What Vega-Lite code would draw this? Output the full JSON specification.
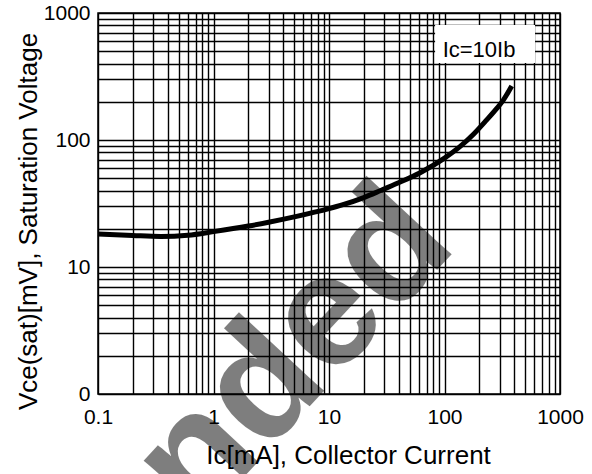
{
  "$schema": "https://vega.github.io/schema/vega-lite/v6.json",
  "width": 462,
  "height": 381,
  "autosize": {"type": "none"},
  "padding": {"left": 98, "top": 13, "right": 32, "bottom": 80},
  "background": "white",
  "config": {
    "view": {"stroke": "black", "strokeWidth": 1.5},
    "font": "Liberation Sans"
  },
  "datasets": {
    "curve": [
      {"ic": 0.1, "vce": 18.2},
      {"ic": 0.2, "vce": 17.7},
      {"ic": 0.35, "vce": 17.4},
      {"ic": 0.6, "vce": 17.8},
      {"ic": 1.0, "vce": 19.0},
      {"ic": 2.0, "vce": 21.0},
      {"ic": 3.0, "vce": 22.5},
      {"ic": 5.0, "vce": 24.8},
      {"ic": 10, "vce": 28.8},
      {"ic": 13, "vce": 30.8},
      {"ic": 20, "vce": 35.2},
      {"ic": 28, "vce": 40.0},
      {"ic": 40, "vce": 46},
      {"ic": 61, "vce": 55},
      {"ic": 100, "vce": 72},
      {"ic": 136, "vce": 88.6},
      {"ic": 180, "vce": 112},
      {"ic": 232, "vce": 144},
      {"ic": 280, "vce": 175},
      {"ic": 323, "vce": 206},
      {"ic": 382, "vce": 266}
    ],
    "one": [{}]
  },
  "layer": [
    {
      "data": {"name": "one"},
      "mark": {"type": "text", "text": "Recommended", "font": "Liberation Sans", "fontWeight": "bold", "fontSize": 160, "align": "right", "baseline": "alphabetic", "angle": -47, "color": "black", "opacity": 0.5, "clip": false},
      "encoding": {
        "x": {"datum": 133, "type": "quantitative"},
        "y": {"datum": 14.5, "type": "quantitative"}
      }
    },
    {
      "data": {"name": "curve"},
      "mark": {"type": "line", "color": "black", "strokeWidth": 5, "interpolate": "monotone"},
      "encoding": {
        "x": {
          "field": "ic",
          "type": "quantitative",
          "scale": {"type": "log", "domain": [0.1, 1000], "nice": false},
          "axis": {
            "title": "Ic[mA], Collector Current",
            "titleFontSize": 26,
            "titleFontWeight": "normal",
            "titleColor": "black",
            "titleX": 250,
            "titleY": 69,
            "titleBaseline": "alphabetic",
            "titleAlign": "center",
            "values": [0.1,0.2,0.3,0.4,0.5,0.6,0.7,0.8,0.9,1,2,3,4,5,6,7,8,9,10,20,30,40,50,60,70,80,90,100,200,300,400,500,600,700,800,900,1000],
            "labelExpr": "indexof([0.1,1,10,100,1000], datum.value) >= 0 ? '' + datum.value : ''",
            "labelFontSize": 21,
            "labelColor": "black",
            "labelPadding": 12,
            "labelFlush": false,
            "labelOverlap": false,
            "labelBound": false,
            "ticks": false,
            "tickSize": 0,
            "domain": false,
            "grid": true,
            "gridColor": "black",
            "gridWidth": 1.4,
            "gridOpacity": 1
          }
        },
        "y": {
          "field": "vce",
          "type": "quantitative",
          "scale": {"type": "log", "domain": [1, 1000], "nice": false},
          "axis": {
            "title": "Vce(sat)[mV], Saturation Voltage",
            "titleFontSize": 26,
            "titleFontWeight": "normal",
            "titleColor": "black",
            "titleX": -62,
            "titleY": 208,
            "titleAngle": 270,
            "titleBaseline": "alphabetic",
            "titleAlign": "center",
            "values": [1,2,3,4,5,6,7,8,9,10,20,30,40,50,60,70,80,90,100,200,300,400,500,600,700,800,900,1000],
            "labelExpr": "datum.value == 1 ? '0' : (indexof([10,100,1000], datum.value) >= 0 ? '' + datum.value : '')",
            "labelFontSize": 21,
            "labelColor": "black",
            "labelPadding": 8,
            "labelFlush": false,
            "labelOverlap": false,
            "labelBound": false,
            "ticks": false,
            "tickSize": 0,
            "domain": false,
            "grid": true,
            "gridColor": "black",
            "gridWidth": 1.4,
            "gridOpacity": 1
          }
        }
      }
    },
    {
      "data": {"name": "one"},
      "mark": {"type": "rect", "fill": "white"},
      "encoding": {
        "x": {"datum": 82.9, "type": "quantitative"},
        "x2": {"datum": 608},
        "y": {"datum": 805, "type": "quantitative"},
        "y2": {"datum": 404}
      }
    },
    {
      "data": {"name": "one"},
      "mark": {"type": "text", "text": "Ic=10Ib", "fontSize": 22, "color": "black", "align": "center", "baseline": "alphabetic", "font": "Liberation Sans"},
      "encoding": {
        "x": {"datum": 199, "type": "quantitative"},
        "y": {"datum": 453, "type": "quantitative"}
      }
    }
  ]
}
